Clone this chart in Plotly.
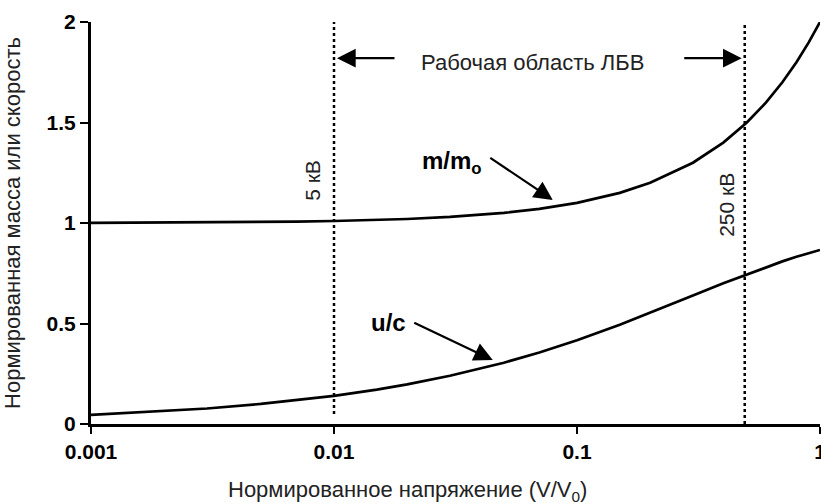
import plotly.graph_objects as go
import math

# Normalized voltage V/V0 (log axis)
voltage = [0.001, 0.002, 0.003, 0.005, 0.007, 0.01, 0.015, 0.02, 0.03, 0.05, 0.07,
           0.1, 0.15, 0.2, 0.3, 0.4, 0.5, 0.6, 0.7, 0.8, 0.9, 1.0]
# m/m0
mass_ratio = [1.001, 1.002, 1.003, 1.005, 1.007, 1.01, 1.015, 1.02, 1.03, 1.05, 1.07,
              1.10, 1.15, 1.20, 1.30, 1.40, 1.50, 1.60, 1.70, 1.80, 1.90, 2.00]
# u/c
velocity_ratio = [0.045, 0.063, 0.077, 0.100, 0.118, 0.140, 0.171, 0.197, 0.240, 0.305, 0.356,
                  0.417, 0.494, 0.553, 0.639, 0.700, 0.745, 0.781, 0.809, 0.832, 0.850, 0.866]

# Vertical boundary lines (5 kV and 250 kV)
boundary_x = [0.01, 0.49]
boundary_ymin = [0.05, 0.0]
boundary_labels = ["5 кВ", "250 кВ"]

x_ticks = [0.001, 0.01, 0.1, 1]
x_tick_text = ["0.001", "0.01", "0.1", "1"]
y_ticks = [0, 0.5, 1, 1.5, 2]
y_tick_text = ["0", "0.5", "1", "1.5", "2"]

x_title = "Нормированное напряжение (V/V<sub>0</sub>)"
y_title = "Нормированная масса или скорость"

FONT = "Liberation Sans, Arial, sans-serif"
TXT = "#222222"

fig = go.Figure()
fig.add_trace(go.Scatter(x=voltage, y=mass_ratio, mode="lines",
                         line=dict(color="black", width=2.7), showlegend=False,
                         hoverinfo="skip"))
fig.add_trace(go.Scatter(x=voltage, y=velocity_ratio, mode="lines",
                         line=dict(color="black", width=2.7), showlegend=False,
                         hoverinfo="skip"))
for bx, by in zip(boundary_x, boundary_ymin):
    fig.add_trace(go.Scatter(x=[bx, bx], y=[by, 2.0], mode="lines",
                             line=dict(color="black", width=2.5, dash="dot"),
                             showlegend=False, hoverinfo="skip"))

L = math.log10
ARW = dict(showarrow=True, text="", arrowhead=2, arrowsize=1.7, arrowwidth=2.2,
           arrowcolor="black")
annotations = [
    # working region label and arrows
    dict(x=L(0.0653), y=1.80, text="Рабочая область ЛБВ", showarrow=False,
         font=dict(family=FONT, size=22, color=TXT)),
    dict(x=L(boundary_x[0]), y=1.82, ax=62, ay=0, standoff=3, **ARW),
    dict(x=L(boundary_x[1]), y=1.82, ax=-62, ay=0, standoff=3, **ARW),
    # curve labels
    dict(x=L(0.0306), y=1.30, text="<b>m/m<sub>o</sub></b>", showarrow=False,
         font=dict(family=FONT, size=24, color="black")),
    dict(x=L(0.0795), y=1.115, ax=-64, ay=-43, **ARW),
    dict(x=L(0.0167), y=0.507, text="<b>u/c</b>", showarrow=False,
         font=dict(family=FONT, size=24, color="black")),
    dict(x=L(0.045), y=0.318, ax=-80, ay=-38, **ARW),
    # boundary labels
    dict(x=L(0.0082), y=1.21, text=boundary_labels[0], textangle=-90, showarrow=False,
         font=dict(family=FONT, size=21, color=TXT)),
    dict(x=L(0.414), y=1.09, text=boundary_labels[1], textangle=-90, showarrow=False,
         font=dict(family=FONT, size=21, color=TXT)),
    # x axis title (sits left of the axis centre in the reference)
    dict(xref="paper", yref="paper", x=0.4335, y=-0.166, text=x_title,
         showarrow=False, xanchor="center", yanchor="middle",
         font=dict(family=FONT, size=22, color=TXT)),
]

fig.update_layout(
    width=821, height=504,
    margin=dict(l=91, r=1, t=22, b=80),
    paper_bgcolor="white", plot_bgcolor="white",
    font=dict(family=FONT, color=TXT),
    annotations=annotations,
    showlegend=False,
)
fig.update_xaxes(
    type="log", range=[-3, 0], automargin=False,
    tickvals=x_ticks, ticktext=x_tick_text, ticklabeloverflow="allow",
    tickfont=dict(family=FONT, size=21, color="black", weight="bold"),
    ticks="outside", ticklen=7, tickwidth=2, tickcolor="black",
    showline=True, linecolor="black", linewidth=3,
    showgrid=False, zeroline=False,
)
fig.update_yaxes(
    range=[0, 2], automargin=False,
    tickvals=y_ticks, ticktext=y_tick_text, ticklabeloverflow="allow",
    tickfont=dict(family=FONT, size=21, color="black", weight="bold"),
    ticks="outside", ticklen=8, tickwidth=2, tickcolor="black",
    showline=True, linecolor="black", linewidth=3,
    showgrid=False, zeroline=False,
    title=dict(text=y_title, font=dict(family=FONT, size=22, color=TXT), standoff=20),
)

# remove the browser's default page margin so the 821x504 figure fills the window
fig.write_html("out.html", config={"displayModeBar": False},
               post_script="document.body.style.margin='0';")
